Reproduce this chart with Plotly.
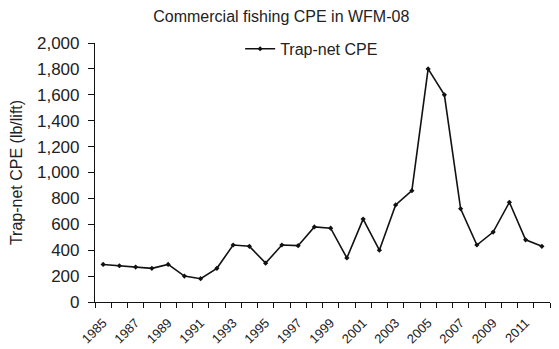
import plotly.graph_objects as go

years = list(range(1985, 2013))
cpe = [290, 280, 270, 260, 290, 200, 180, 260, 440, 430, 300, 440, 435, 580, 570,
       340, 640, 400, 750, 860, 1800, 1600, 720, 440, 540, 770, 480, 430]
y_ticks = list(range(0, 2001, 200))
x_label_years = list(range(1985, 2012, 2))

font_family = "Liberation Sans, Arial, sans-serif"

fig = go.Figure()
fig.add_trace(go.Scatter(
    x=years, y=cpe, mode="lines+markers", name="Trap-net CPE",
    line=dict(color="#111111", width=1.6),
    marker=dict(symbol="diamond", size=4, color="#111111"),
))

# the page body has an 8px default margin, so the figure is sized to fit inside it
fig.update_layout(
    width=551, height=341,
    margin=dict(l=87, r=9, t=35, b=47),
    paper_bgcolor="white", plot_bgcolor="white",
    font=dict(family=font_family, size=16, color="#222222"),
    title=dict(text="Commercial fishing CPE in WFM-08", x=0.496, xanchor="center",
               y=0.974, yanchor="middle", font=dict(size=16, color="#222222")),
    showlegend=True,
    legend=dict(x=0.319, y=1.043, xanchor="left", yanchor="top",
                bgcolor="rgba(0,0,0,0)", font=dict(size=16),
                itemwidth=30),
)
fig.update_xaxes(
    type="linear",
    range=[1984.5, 2012.5],
    tickvals=x_label_years, ticktext=[str(v) for v in x_label_years],
    tickangle=-45, ticks="", ticklen=0, ticklabelstandoff=7,
    minor=dict(ticks="outside", tick0=1984.5, dtick=1, ticklen=5,
               tickcolor="#111111", showgrid=False),
    showline=True, linecolor="#111111", linewidth=1.2,
    showgrid=False, zeroline=False, automargin=False,
    tickfont=dict(size=13),
)
fig.update_yaxes(
    range=[0, 2000], tickvals=y_ticks, tickformat=",",
    ticks="outside", ticklen=6, tickcolor="#111111", ticklabelstandoff=5,
    showline=True, linecolor="#111111", linewidth=1.2,
    showgrid=False, zeroline=False, automargin=False,
    title=dict(text="Trap-net CPE (lb/lift)", font=dict(size=16), standoff=10),
    tickfont=dict(size=17),
)

fig.write_html("out.html")
